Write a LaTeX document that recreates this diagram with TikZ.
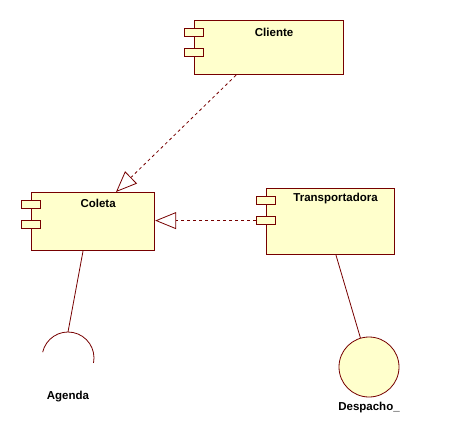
\documentclass[tikz,border=0pt]{standalone}
\usepackage{fontspec}
\setmainfont{Liberation Sans}
\usetikzlibrary{positioning,calc,arrows.meta}
\definecolor{umlline}{RGB}{118,0,0}
\definecolor{umlfill}{RGB}{255,255,204}

\begin{document}
\begin{tikzpicture}[x=1pt,y=-1pt,
    comp/.style={draw=umlline,fill=umlfill,line width=1.2pt,rectangle,inner sep=0pt,anchor=north west},
    port/.style={draw=umlline,fill=umlfill,line width=1.2pt,rectangle,inner sep=0pt,
        minimum width=19pt,minimum height=8pt,anchor=north west},
    lbl/.style={font=\fontsize{11.5}{13}\selectfont\bfseries},
    realiz/.style={umlline,line width=0.8pt,dash pattern=on 3pt off 3pt,
        -{Triangle[open,length=21pt,width=17pt]}},
    wire/.style={umlline,line width=0.8pt}]
    \useasboundingbox (0,0) rectangle (452,440);
    % components
    \node[comp,minimum width=149pt,minimum height=54pt] (cliente) at (194,20) {};
    \node[comp,minimum width=123pt,minimum height=58pt] (coleta) at (31,192) {};
    \node[comp,minimum width=128pt,minimum height=66pt] (transp) at (266,188) {};
    \foreach \c in {cliente,coleta,transp}{
        \node[port] (\c p1) at ([xshift=-10pt,yshift=-8pt]\c.north west) {};
        \node[port] (\c p2) at ([xshift=-10pt,yshift=-28pt]\c.north west) {};
    }
    \node[lbl] (clienteLbl) at ([xshift=5pt,yshift=-12pt]cliente.north) {Cliente};
    \node[lbl] (coletaLbl) at ([xshift=5pt,yshift=-11pt]coleta.north) {Coleta};
    \node[lbl] (transpLbl) at ([xshift=5pt,yshift=-11pt]transp.north) {Transportadora};
    % interfaces
    \coordinate (agenda) at (68,358);
    \coordinate (agendaTop) at ([yshift=26pt]agenda);
    \draw[wire] ([shift={(-11:26pt)}]agenda) arc[start angle=-11,end angle=167,radius=26pt];
    \node[lbl] (agendaLbl) at (68,397) {Agenda};
    \node[draw=umlline,fill=umlfill,line width=0.8pt,circle,minimum size=60pt,inner sep=0pt] (despacho) at (369,367) {};
    \node[lbl] (despachoLbl) at (369,408) {Despacho\_};
    % connectors
    \draw[realiz] ([xshift=42pt]cliente.south west) -- ([xshift=85pt]coleta.north west);
    \draw[realiz] (transpp2.west) -- (transpp2.west -| coleta.east);
    \draw[wire] ([xshift=52pt]coleta.south west) -- (agendaTop);
    \draw[wire] ([xshift=70pt]transp.south west) -- (despacho);
\end{tikzpicture}
\end{document}
